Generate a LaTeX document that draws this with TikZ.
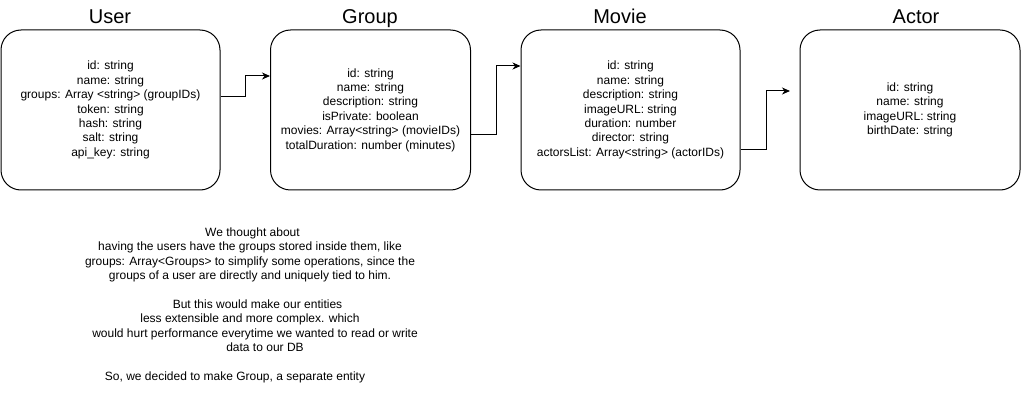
\documentclass[tikz,border=0pt]{standalone}
\usepackage{fontspec}
\setmainfont{Liberation Sans}
\usetikzlibrary{arrows.meta}

\begin{document}
\begin{tikzpicture}[x=1pt, y=-1pt,
    entity/.style={draw, line width=1pt, rounded corners=20pt, minimum height=160pt,
      align=center, inner sep=0pt, font=\fontsize{12}{14.4}\selectfont},
    title/.style={anchor=base, font=\fontsize{20}{24}\selectfont},
    link/.style={line width=1pt, -{Stealth[length=8pt, width=7pt, inset=2.5pt]}},
    note/.style={anchor=north, align=center, inner sep=0pt, font=\fontsize{12}{14.4}\selectfont}]
  \useasboundingbox (0,0) rectangle (1021,401);

  % Titles
  \node[title] (usertitle) at (110,23.5) {User};
  \node[title] (grouptitle) at (370,23.5) {Group};
  \node[title] (movietitle) at (620,23.5) {Movie};
  \node[title] (actortitle) at (916,23.5) {Actor};

  % Entities
  \node[entity, minimum width=219pt] (user) at (110.5,110) {id: string\\name: string\\groups: Array <string> (groupIDs)\\token: string\\hash: string\\salt: string\\api\_key: string};
  \node[entity, minimum width=200pt] (group) at (370.5,110) {id: string\\name: string\\description: string\\isPrivate: boolean\\movies: Array<string> (movieIDs)\\totalDuration: number (minutes)};
  \node[entity, minimum width=219pt] (movie) at (630.5,110) {id: string\\name: string\\description: string\\imageURL: string\\duration: number\\director: string\\actorsList: Array<string> (actorIDs)};
  \node[entity, minimum width=220pt] (actor) at (910,110) {id: string\\name: string\\imageURL: string\\birthDate: string};

  \coordinate (actorin) at (790,91);

  % Links
  \draw[link] ([yshift=13pt]user.east) -- ++(25,0) |- ([yshift=34pt]group.west);
  \draw[link] ([yshift=-25pt]group.east) -- ++(25.5,0) |- ([yshift=44pt]movie.west);
  \draw[link] ([yshift=-40pt]movie.east) -- ++(25.5,0) |- (actorin);

  % Note
  \node[note] (note) at (250,227.5) {\hspace*{5pt}We thought about\\
    having the users have the groups stored inside them, like\hspace*{8pt}\\
    groups: Array<Groups> to simplify some operations, since the\\
    groups of a user are directly and uniquely tied to him.\hspace*{13pt}\\[14.4pt]
    \hspace*{15pt}But this would make our entities\\
    less extensible and more complex. which\\
    \hspace*{10pt}would hurt performance everytime we wanted to read or write\\
    \hspace*{30pt}data to our DB\\[14.4pt]
    So, we decided to make Group, a separate entity\hspace*{30pt}};
\end{tikzpicture}
\end{document}
